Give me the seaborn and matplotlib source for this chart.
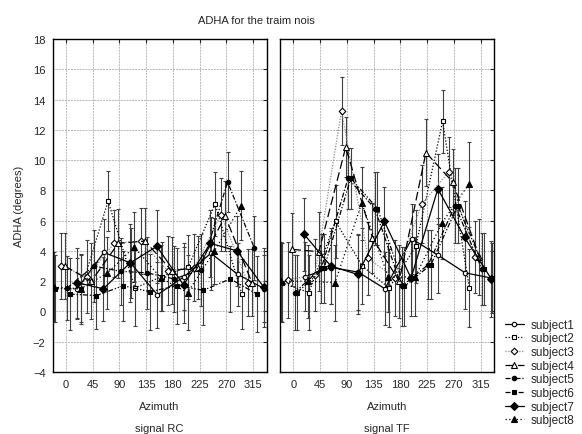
import matplotlib
matplotlib.use('Agg')
import matplotlib.pyplot as plt
import seaborn as sns
import numpy as np

sns.set_style("white")
plt.rcParams['font.family'] = ['Liberation Sans', 'DejaVu Sans']

azimuth = [0, 45, 90, 135, 180, 225, 270, 315]
subjects = ['subject1', 'subject2', 'subject3', 'subject4',
            'subject5', 'subject6', 'subject7', 'subject8']
# each subject is drawn slightly shifted along the azimuth axis
shift = [19, -19, -9, -2, 2, 6.5, 18, -20]

# mean ADHA, signal RC
rc_mean = [
    [1.5, 3.9, 3.2, 1.1, 2.3, 3.85, 2.45, 1.5],
    [1.5, 1.5, 7.3, 1.55, 2.3, 2.95, 7.1, 1.15],
    [3.0, 2.3, 4.5, 4.65, 2.7, 2.9, 6.4, 1.9],
    [3.0, 2.0, 4.5, 4.65, 2.7, 2.9, 6.3, 1.9],
    [1.55, 3.0, 2.65, 2.55, 2.15, 2.75, 8.55, 4.2],
    [1.15, 1.05, 1.7, 1.3, 1.7, 1.4, 2.15, 1.15],
    [1.9, 1.5, 3.2, 4.3, 1.75, 4.5, 4.0, 1.6],
    [1.6, 1.5, 2.55, 4.25, 2.2, 1.25, 4.0, 7.0],
]
rc_err = [
    [2.0, 2.2, 2.3, 2.2, 2.2, 2.4, 2.1, 2.2],
    [2.2, 2.3, 2.0, 2.5, 2.3, 2.1, 2.1, 2.3],
    [2.2, 2.4, 2.2, 2.2, 2.3, 2.2, 2.4, 2.2],
    [2.2, 2.5, 2.3, 2.2, 2.2, 2.1, 2.3, 2.2],
    [2.1, 2.4, 2.2, 2.4, 2.2, 2.4, 2.0, 2.1],
    [2.4, 2.2, 2.3, 2.5, 2.5, 2.3, 2.2, 2.5],
    [2.3, 2.1, 2.6, 2.4, 2.5, 2.2, 2.3, 2.6],
    [2.3, 2.2, 2.4, 2.3, 2.2, 2.5, 2.2, 2.25],
]

# mean ADHA, signal TF
tf_mean = [
    [2.3, 2.9, 2.6, 1.5, 4.8, 3.7, 2.55, 2.2],
    [1.9, 1.25, 5.95, 3.0, 1.55, 4.3, 12.55, 1.55],
    [2.1, 2.4, 13.25, 3.5, 2.2, 7.1, 9.2, 3.6],
    [4.1, 3.95, 10.85, 4.85, 2.0, 10.5, 8.55, 3.6],
    [1.25, 2.85, 8.8, 6.8, 1.65, 3.1, 7.0, 2.8],
    [1.25, 2.85, 8.8, 6.8, 1.65, 3.1, 7.0, 2.8],
    [5.1, 3.0, 2.45, 5.95, 2.2, 8.1, 4.9, 2.15],
    [2.0, 2.0, 1.9, 7.15, 2.25, 2.3, 5.85, 8.4],
]
tf_err = [
    [2.3, 2.4, 2.5, 2.4, 2.3, 2.5, 2.4, 2.3],
    [2.6, 2.5, 2.4, 2.5, 2.6, 2.4, 2.1, 2.6],
    [2.5, 2.4, 2.25, 2.4, 2.5, 2.6, 2.3, 2.4],
    [2.4, 2.6, 2.0, 2.3, 2.4, 2.2, 2.2, 2.5],
    [2.5, 2.3, 2.0, 2.4, 2.6, 2.3, 2.5, 2.4],
    [2.5, 2.3, 2.0, 2.4, 2.6, 2.3, 2.5, 2.4],
    [2.4, 2.5, 2.6, 2.3, 2.5, 2.3, 2.4, 2.5],
    [2.6, 2.4, 2.5, 2.4, 2.3, 2.6, 2.4, 2.8],
]

styles = [
    dict(marker='o', ms=3.2, mfc='white', ls='-', c='black'),
    dict(marker='s', ms=3.2, mfc='white', ls=(0, (1, 1.5)), c='black'),
    dict(marker='D', ms=3.4, mfc='white', ls=(0, (1, 1.2)), c='0.55'),
    dict(marker='^', ms=4.3, mfc='white', ls=(0, (7, 3)), c='black'),
    dict(marker='o', ms=3.2, mfc='black', ls=(0, (4, 1.5, 1, 1.5)), c='black'),
    dict(marker='s', ms=3.2, mfc='black', ls=(0, (4, 1.5, 1, 1.5, 1, 1.5)), c='black'),
    dict(marker='D', ms=3.6, mfc='black', ls='-', c='black'),
    dict(marker='^', ms=4.3, mfc='black', ls=(0, (1, 2)), c='black'),
]

fig = plt.figure(figsize=(5.82, 4.35), dpi=100)
W, H = 582, 435
axL = fig.add_axes([52.5 / W, 1 - 373 / H, 214 / W, 333 / H])
axR = fig.add_axes([280 / W, 1 - 373 / H, 214 / W, 333 / H])


def draw(ax, means, errs):
    for i, name in enumerate(subjects):
        st = styles[i]
        x = np.array(azimuth) + shift[i]
        ax.errorbar(x, means[i], yerr=errs[i], fmt='none', ecolor='0.25',
                    elinewidth=0.8, capsize=1.5, capthick=0.8, zorder=2)
        sns.lineplot(x=x, y=means[i], ax=ax, color=st['c'], linestyle=st['ls'],
                     lw=0.9, marker=st['marker'], ms=st['ms'],
                     markerfacecolor=st['mfc'], markeredgecolor='black',
                     markeredgewidth=0.8, label=name, sort=False, zorder=3)
    ax.set_xlim(-22.5, 337.5)
    ax.set_ylim(-4, 18)
    ax.set_xticks(azimuth)
    ax.set_yticks(range(-4, 19, 2))
    ax.grid(True, color='0.72', lw=0.7, ls=(0, (2, 1)))
    ax.tick_params(direction='in', length=3, labelsize=8, top=True, right=True,
                   pad=5)
    for sp in ax.spines.values():
        sp.set_color('black')
        sp.set_linewidth(1)
    ax.set_xlabel('')
    ax.set_ylabel('')
    leg = ax.get_legend()
    if leg:
        leg.remove()


draw(axL, rc_mean, rc_err)
draw(axR, tf_mean, tf_err)
axR.tick_params(labelleft=False)

axL.set_ylabel('ADHA (degrees)', fontsize=8, labelpad=6)
for ax, lab in [(axL, 'signal RC'), (axR, 'signal TF')]:
    ax.text(0.5, -0.103, 'Azimuth', transform=ax.transAxes, ha='center',
            va='center', fontsize=8)
    ax.text(0.5, -0.168, lab, transform=ax.transAxes, ha='center',
            va='center', fontsize=8)

fig.text(256 / W, 1 - 21 / H, 'ADHA for the traim nois', ha='center',
         va='center', fontsize=8)

handles, labels = axL.get_legend_handles_labels()
fig.legend(handles[:8], labels[:8], loc='upper left',
           bbox_to_anchor=(500 / W, 1 - 315 / H), frameon=False, fontsize=8.5,
           handlelength=1.6, handletextpad=0.6, labelspacing=0.14,
           borderaxespad=0)

fig.savefig('out.png', dpi=100)
